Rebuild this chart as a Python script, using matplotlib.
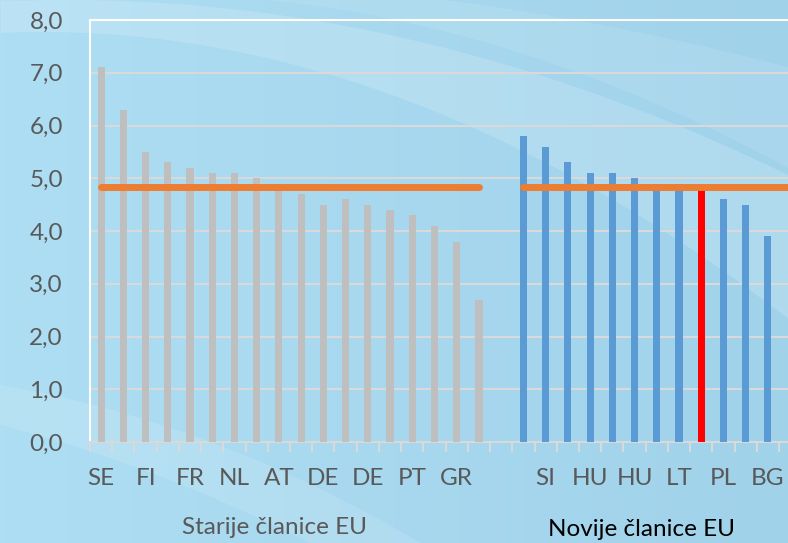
import numpy as np
import matplotlib
matplotlib.use("Agg")
import matplotlib.pyplot as plt

plt.rcParams['font.family'] = ['Lato', 'DejaVu Sans']

# ---- data ----
old_values = [7.1, 6.3, 5.5, 5.3, 5.2, 5.1, 5.1, 5.0, 4.8, 4.7, 4.5, 4.6, 4.5, 4.4, 4.3, 4.1, 3.8, 2.7]
new_values = [5.8, 5.6, 5.3, 5.1, 5.1, 5.0, 4.9, 4.9, 4.8, 4.6, 4.5, 3.9]
highlight_new_index = 8
old_avg = 4.83
new_avg = 4.83
old_labels = ["SE", "", "FI", "", "FR", "", "NL", "", "AT", "", "DE", "", "DE", "", "PT", "", "GR", ""]
new_labels = ["", "SI", "", "HU", "", "HU", "", "LT", "", "PL", "", "BG"]
yticks = [0, 1, 2, 3, 4, 5, 6, 7, 8]
group_old = "Starije članice EU"
group_new = "Novije članice EU"

W, H = 788, 543
fig = plt.figure(figsize=(W / 100, H / 100), dpi=100)

# ---- background ----
bg = fig.add_axes([0, 0, 1, 1], zorder=-10)
bg.set_xlim(0, W)
bg.set_ylim(H, 0)
bg.axis('off')
gx = np.linspace(0, 1, 256)
grad = np.zeros((2, 256, 3))
c1 = np.array([0xAE, 0xDE, 0xF3]) / 255
c2 = np.array([0xA0, 0xD2, 0xEA]) / 255
for i, t in enumerate(gx):
    grad[:, i, :] = c1 * (1 - t) + c2 * t
bg.imshow(grad, extent=[0, W, H, 0], aspect='auto', zorder=0)

def band(up, lo, alpha):
    xs = np.linspace(0, W, 300)
    ux, uy = zip(*up)
    lx, ly = zip(*lo)
    yu = np.polyval(np.polyfit(ux, uy, 2), xs)
    yl = np.polyval(np.polyfit(lx, ly, 2), xs)
    bg.fill_between(xs, yu, yl, color='white', alpha=alpha, lw=0, zorder=1)

band([(0, 0), (200, 8), (400, 35), (600, 95), (788, 175)],
     [(0, 30), (200, 50), (400, 95), (600, 190), (788, 320)], 0.16)
band([(0, -20), (300, -10), (500, 5), (650, 30), (788, 70)],
     [(0, 0), (300, 10), (500, 40), (650, 100), (788, 170)], 0.10)
band([(0, 385), (150, 420), (300, 480), (450, 560)],
     [(0, 425), (150, 470), (300, 540), (450, 620)], 0.12)

# ---- chart ----
n_old = len(old_values)
n_new = len(new_values)
total = n_old + 1 + n_new
cat_px = 689 / total
extra = 1.0
ax = fig.add_axes([90 / W, (H - 442) / H, (689 + extra * cat_px) / W, 422 / H])
ax.patch.set_alpha(0)

x_old = np.arange(n_old)
x_new = np.arange(n_new) + n_old + 1
bw = 0.32

ax.bar(x_old, old_values, width=bw, color='#BFBFBF', zorder=3)
new_colors = ['#5B9BD5'] * n_new
new_colors[highlight_new_index] = '#FF0000'
ax.bar(x_new, new_values, width=bw, color=new_colors, zorder=3)

ax.plot([x_old[0], x_old[-1]], [old_avg, old_avg], color='#ED7D31', lw=5,
        solid_capstyle='round', zorder=4)
ax.plot([x_new[0], x_new[-1] + 1.5], [new_avg, new_avg], color='#ED7D31', lw=5,
        solid_capstyle='round', zorder=4)

ax.set_xlim(-0.5, total - 0.5 + extra)
ax.set_ylim(0, 8)
ax.set_yticks(yticks)
ax.set_yticklabels([f"{v:.1f}".replace('.', ',') for v in yticks],
                   fontsize=17.5, color='#595959')
ax.tick_params(axis='y', length=0, pad=19.5)
for y in yticks[1:-1]:
    ax.axhline(y, color='#D9D9D9', lw=1.5, zorder=1)

labels = old_labels + [""] + new_labels
ax.set_xticks(np.arange(total))
ax.set_xticklabels(labels, fontsize=17.5, color='#595959')
ax.tick_params(axis='x', length=0, pad=19)
ax.set_xticks(np.arange(total + 2) - 0.5, minor=True)
ax.tick_params(axis='x', which='minor', length=7, width=1.5, color='#D9D9D9',
               direction='out')

for s in ['left', 'top']:
    ax.spines[s].set_color('white')
    ax.spines[s].set_linewidth(1.5)
ax.spines['right'].set_visible(False)
ax.spines['bottom'].set_color('#D9D9D9')
ax.spines['bottom'].set_linewidth(1.5)

fig.text(274 / W, 1 - 527 / H, group_old, ha='center', va='center',
         fontsize=17.5, color='#595959')
fig.text(642 / W, 1 - 529 / H, group_new, ha='center', va='center',
         fontsize=17.5, color='black')

fig.savefig('out.png', dpi=100)
